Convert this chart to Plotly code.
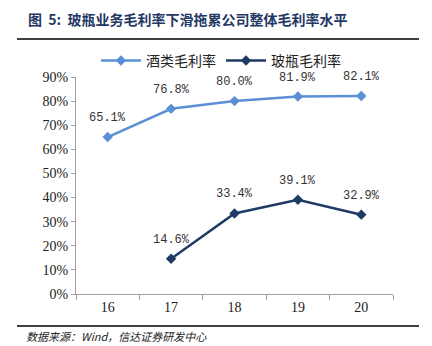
import plotly.graph_objects as go

years = ["16", "17", "18", "19", "20"]
liquor = [65.1, 76.8, 80.0, 81.9, 82.1]
glass = [None, 14.6, 33.4, 39.1, 32.9]
ytick_vals = [0, 10, 20, 30, 40, 50, 60, 70, 80, 90]
ytick_text = [f"{v}%" for v in ytick_vals]

c1 = "#5B8FD6"
c2 = "#1F3B63"

fig = go.Figure()
fig.add_trace(go.Scatter(
    x=years, y=liquor, name="酒类毛利率", mode="lines+markers",
    line=dict(color=c1, width=2.5), marker=dict(symbol="diamond", size=8, color=c1),
))
fig.add_trace(go.Scatter(
    x=years, y=glass, name="玻瓶毛利率", mode="lines+markers",
    line=dict(color=c2, width=2.5), marker=dict(symbol="diamond", size=8, color=c2),
))

annotations = []
for series in (liquor, glass):
    for i, v in enumerate(series):
        if v is None:
            continue
        annotations.append(dict(
            x=i, y=v, xref="x", yref="y", text=f"{v:.1f}%", showarrow=False,
            yshift=19, yanchor="middle", xanchor="center",
            font=dict(family="Liberation Mono, monospace", size=12, color="#333333"),
        ))

annotations += [
    dict(text="<b>图  5:  玻瓶业务毛利率下滑拖累公司整体毛利率水平</b>", xref="paper", yref="paper",
         x=-76/317 + 26/317, xanchor="left", y=1 + (77-19)/217, yanchor="middle",
         showarrow=False, font=dict(family="Noto Sans CJK SC", size=14, color="#1F3864")),
    dict(text="<i>数据来源：Wind，信达证券研发中心</i>", xref="paper", yref="paper",
         x=-76/317 + 24/317, xanchor="left", y=-(330-294+6)/217, yanchor="middle",
         showarrow=False, font=dict(family="Noto Sans CJK SC", size=11, color="#222222")),
]

fig.update_layout(
    width=432, height=346,
    margin=dict(l=76, r=39, t=77, b=52),
    paper_bgcolor="white", plot_bgcolor="white",
    showlegend=True,
    legend=dict(orientation="h", x=(96-76)/317, xanchor="left", y=1.074, yanchor="middle",
                font=dict(family="Noto Sans CJK SC", size=14, color="#222222"),
                itemwidth=40, traceorder="normal"),
    xaxis=dict(type="category", categoryorder="array", categoryarray=years,
               range=[-0.5, len(years) - 0.5],
               showline=True, linecolor="#A0A0A0", linewidth=1,
               ticks="outside", tickson="boundaries", ticklen=5, tickcolor="#A0A0A0",
               showgrid=False, tickfont=dict(family="Liberation Serif", size=14, color="#222222")),
    yaxis=dict(range=[0, 90], tickvals=ytick_vals, ticktext=ytick_text,
               showline=True, linecolor="#A0A0A0", linewidth=1,
               ticks="outside", ticklen=4, tickcolor="#A0A0A0", showgrid=False,
               zeroline=False,
               tickfont=dict(family="Liberation Serif", size=14, color="#222222")),
    annotations=annotations,
    shapes=[
        dict(type="line", xref="paper", yref="paper", x0=-76/317 + 17/317, x1=-76/317 + 419/317,
             y0=1 + (77-39)/217, y1=1 + (77-39)/217, line=dict(color="black", width=1.5)),
        dict(type="line", xref="paper", yref="paper", x0=-76/317 + 17/317, x1=-76/317 + 419/317,
             y0=-(326-294)/217, y1=-(326-294)/217, line=dict(color="black", width=1.5)),
    ],
)

fig.write_html("out.html")
